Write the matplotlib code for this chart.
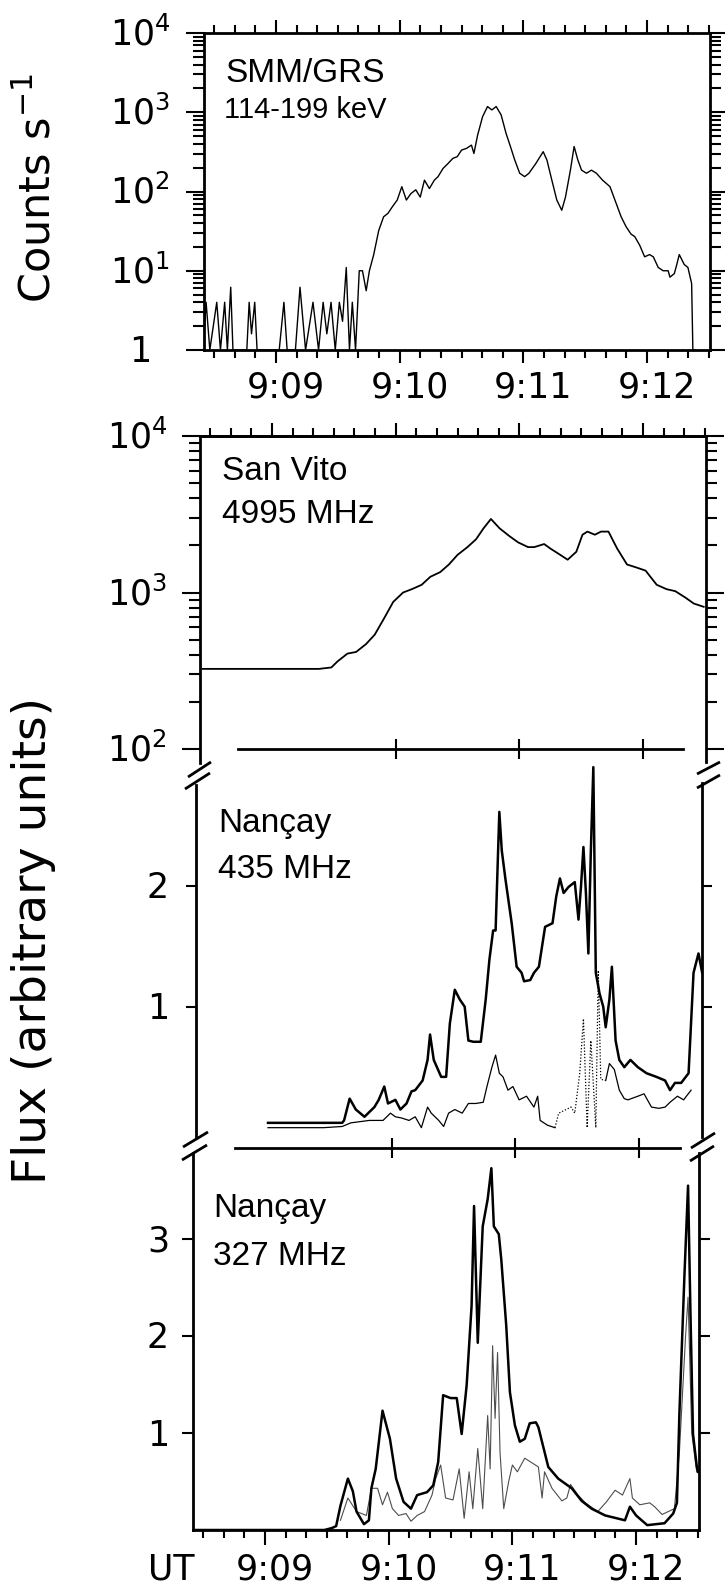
import matplotlib
matplotlib.use("Agg")
import matplotlib.pyplot as plt
from matplotlib.lines import Line2D
from matplotlib.ticker import FixedLocator, LogLocator, MultipleLocator, NullFormatter, NullLocator
from matplotlib.transforms import ScaledTranslation, blended_transform_factory

W, H, DPI = 725, 1591, 100
plt.rcParams['font.family'] = ['DejaVu Sans']
plt.rcParams['mathtext.default'] = 'regular'

# ---------------- data (time in minutes after 9:09:00 UT) ----------------
tick_minutes = [0, 1, 2, 3]
tick_labels = ["9:09", "9:10", "9:11", "9:12"]

grs_yticks = [1, 10, 100, 1000, 10000]
grs_ylabels = ["1", r"$10^{1}$", r"$10^{2}$", r"$10^{3}$", r"$10^{4}$"]
grs_t = [-0.59, -0.565, -0.535, -0.479, -0.449, -0.415, -0.393, -0.366, -0.348, -0.236,
         -0.217, -0.198, -0.172, -0.153, 0.026, 0.064, 0.09, 0.157, 0.194, 0.239,
         0.299, 0.344, 0.381, 0.411, 0.445, 0.479, 0.512, 0.538, 0.568, 0.594,
         0.617, 0.643, 0.673, 0.699, 0.729, 0.755, 0.79, 0.83, 0.87, 0.905,
         0.94, 0.98, 1.017, 1.054, 1.09, 1.13, 1.166, 1.20, 1.24, 1.28,
         1.31, 1.35, 1.39, 1.43, 1.465, 1.50, 1.54, 1.58, 1.60, 1.63,
         1.67, 1.71, 1.745, 1.78, 1.82, 1.86, 1.895, 1.93, 1.97, 2.01,
         2.045, 2.10, 2.16, 2.19, 2.23, 2.27, 2.31, 2.34, 2.38, 2.41,
         2.44, 2.47, 2.51, 2.55, 2.59, 2.64, 2.70, 2.74, 2.79, 2.83,
         2.87, 2.90, 2.94, 2.98, 3.02, 3.05, 3.09, 3.13, 3.17, 3.185,
         3.22, 3.24, 3.26, 3.30, 3.33, 3.36, 3.37, 3.39]
grs_counts = [1, 4, 1, 4, 1, 4, 1, 6.2, 1, 1,
              4, 1.6, 4, 1, 1, 4, 1, 1, 6.2, 1,
              4, 1, 4, 1.6, 4, 1, 4, 2.3, 11, 1,
              4, 1, 10, 10, 5.6, 10, 16, 32, 48, 53,
              64, 78, 115, 78, 94, 105, 85, 139, 109, 139,
              154, 195, 225, 262, 275, 333, 350, 385, 302, 515,
              880, 1180, 1070, 1180, 925, 540, 370, 250, 170, 154,
              170, 225, 318, 250, 139, 78, 58, 85, 186, 370,
              250, 186, 170, 186, 170, 139, 115, 78, 48, 36,
              29, 27, 21, 15, 16, 15, 11, 10, 10, 8.3,
              9.2, 12, 16, 12, 11, 6.9, 1, 1]

sv_yticks = [100, 1000, 10000]
sv_ylabels = [r"$10^{2}$", r"$10^{3}$", r"$10^{4}$"]
sv_t = [-0.56, 0.38, 0.48, 0.53, 0.61, 0.68, 0.76, 0.83, 0.91, 0.98,
        1.06, 1.13, 1.21, 1.28, 1.36, 1.43, 1.50, 1.58, 1.65, 1.71,
        1.77, 1.84, 1.92, 1.99, 2.07, 2.12, 2.20, 2.25, 2.33, 2.39,
        2.46, 2.51, 2.55, 2.61, 2.66, 2.72, 2.79, 2.87, 2.94, 3.02,
        3.11, 3.19, 3.26, 3.34, 3.41, 3.49]
sv_flux = [325, 325, 332, 363, 407, 417, 468, 537, 692, 871,
           1000, 1050, 1120, 1260, 1350, 1510, 1740, 1950, 2190, 2570,
           2950, 2570, 2290, 2090, 1950, 1950, 2040, 1910, 1740, 1620,
           1820, 2340, 2450, 2340, 2450, 2450, 1910, 1510, 1450, 1380,
           1120, 1050, 1020, 930, 850, 810]

n435_yticks = [1, 2]
n435_t = [0.0, 0.60, 0.615, 0.66, 0.71, 0.78, 0.86, 0.895, 0.94, 0.97,
          1.03, 1.07, 1.12, 1.16, 1.19, 1.25, 1.29, 1.31, 1.34, 1.40,
          1.44, 1.47, 1.51, 1.55, 1.59, 1.62, 1.66, 1.72, 1.76, 1.79,
          1.82, 1.84, 1.87, 1.89, 1.92, 1.97, 2.01, 2.05, 2.07, 2.12,
          2.15, 2.19, 2.24, 2.30, 2.33, 2.36, 2.39, 2.43, 2.48, 2.51,
          2.53, 2.55, 2.57, 2.59, 2.61, 2.63, 2.65, 2.68, 2.71, 2.73,
          2.76, 2.78, 2.81, 2.84, 2.88, 2.93, 2.99, 3.06, 3.14, 3.21,
          3.25, 3.29, 3.34, 3.40, 3.44, 3.48, 3.51]
n435_flux = [0.04, 0.04, 0.06, 0.24, 0.15, 0.09, 0.17, 0.23, 0.34, 0.20,
             0.23, 0.15, 0.20, 0.30, 0.31, 0.39, 0.56, 0.77, 0.56, 0.42,
             0.42, 0.86, 1.14, 1.06, 1.00, 0.72, 0.71, 0.71, 1.06, 1.39,
             1.63, 1.63, 2.61, 2.29, 2.05, 1.69, 1.33, 1.28, 1.21, 1.22,
             1.28, 1.33, 1.66, 1.69, 1.91, 2.06, 1.94, 1.99, 2.03, 1.72,
             1.99, 2.32, 1.94, 1.44, 2.29, 2.98, 1.28, 1.11, 1.00, 0.83,
             1.06, 1.33, 0.72, 0.56, 0.50, 0.56, 0.50, 0.45, 0.42, 0.39,
             0.31, 0.37, 0.37, 0.45, 1.28, 1.44, 1.28]
n435b_t = [0.0, 0.45, 0.60, 0.67, 0.745, 0.82, 0.93, 0.99, 1.03, 1.08,
           1.14, 1.19, 1.24, 1.29, 1.32, 1.38, 1.42, 1.46, 1.51, 1.57,
           1.62, 1.68, 1.74, 1.77, 1.81, 1.84, 1.87, 1.90, 1.94, 1.98,
           2.03, 2.09, 2.15, 2.18, 2.20, 2.26, 2.32]
n435b_flux = [0.0, 0.0, 0.01, 0.04, 0.05, 0.06, 0.06, 0.12, 0.09, 0.08,
              0.06, 0.09, 0.0, 0.17, 0.12, 0.06, 0.01, 0.12, 0.15, 0.12,
              0.20, 0.20, 0.21, 0.34, 0.50, 0.60, 0.45, 0.42, 0.31, 0.34,
              0.23, 0.26, 0.17, 0.26, 0.06, 0.02, 0.0]
n435d_t = [2.32, 2.35, 2.41, 2.45, 2.48, 2.52, 2.55, 2.58, 2.61, 2.65, 2.67, 2.69, 2.73]
n435d_flux = [0.0, 0.12, 0.15, 0.17, 0.12, 0.45, 0.90, 0.0, 0.72, 0.0, 1.30, 0.40, 0.39]
n435c_t = [2.73, 2.76, 2.80, 2.84, 2.88, 2.91, 2.99, 3.04, 3.10, 3.16, 3.21, 3.25, 3.31, 3.36, 3.42]
n435c_flux = [0.39, 0.53, 0.48, 0.31, 0.24, 0.23, 0.26, 0.28, 0.17, 0.16, 0.17, 0.21, 0.26, 0.23, 0.31]

n327_yticks = [1, 2, 3]
n327_t = [-0.59, 0.48, 0.54, 0.575, 0.61, 0.67, 0.71, 0.74, 0.80, 0.84,
          0.86, 0.895, 0.95, 1.01, 1.06, 1.12, 1.18, 1.23, 1.31, 1.36,
          1.40, 1.44, 1.50, 1.55, 1.59, 1.63, 1.67, 1.69, 1.72, 1.76,
          1.80, 1.83, 1.85, 1.89, 1.91, 1.95, 1.98, 2.02, 2.06, 2.10,
          2.14, 2.19, 2.21, 2.29, 2.37, 2.48, 2.56, 2.64, 2.75, 2.91,
          2.95, 3.00, 3.09, 3.23, 3.30, 3.33, 3.35, 3.39, 3.42, 3.44,
          3.46, 3.49, 3.50]
n327_flux = [0.0, 0.0, 0.02, 0.04, 0.25, 0.53, 0.40, 0.19, 0.06, 0.10,
             0.43, 0.63, 1.23, 0.94, 0.53, 0.29, 0.22, 0.36, 0.39, 0.46,
             0.70, 1.39, 1.36, 1.36, 0.99, 1.49, 2.31, 3.34, 1.93, 3.13,
             3.41, 3.73, 3.13, 3.05, 2.79, 2.11, 1.42, 1.08, 0.91, 0.94,
             1.10, 1.11, 1.06, 0.65, 0.53, 0.43, 0.30, 0.22, 0.15, 0.10,
             0.24, 0.15, 0.05, 0.07, 0.17, 0.28, 1.2, 2.6, 3.55, 2.2,
             0.99, 0.66, 0.6]
n327b_t = [0.61, 0.67, 0.74, 0.82, 0.86, 0.91, 0.95, 0.99, 1.03, 1.08,
           1.14, 1.18, 1.23, 1.29, 1.35, 1.38, 1.42, 1.46, 1.52, 1.57,
           1.61, 1.65, 1.68, 1.72, 1.76, 1.80, 1.82, 1.84, 1.86, 1.88,
           1.90, 1.93, 1.97, 2.00, 2.04, 2.10, 2.21, 2.24, 2.26, 2.32,
           2.40, 2.44, 2.47, 2.53, 2.59, 2.69, 2.76, 2.83, 2.89, 2.95,
           2.97, 3.03, 3.11, 3.15, 3.21, 3.26, 3.31, 3.35, 3.40, 3.42,
           3.45, 3.49]
n327b_flux = [0.10, 0.33, 0.19, 0.15, 0.43, 0.43, 0.26, 0.39, 0.22, 0.15,
              0.17, 0.09, 0.15, 0.19, 0.36, 0.53, 0.67, 0.33, 0.31, 0.63,
              0.12, 0.60, 0.22, 0.84, 0.22, 1.18, 0.63, 1.90, 1.15, 1.83,
              0.80, 0.22, 0.50, 0.67, 0.60, 0.74, 0.65, 0.33, 0.60, 0.43,
              0.30, 0.33, 0.47, 0.36, 0.28, 0.19, 0.29, 0.41, 0.36, 0.53,
              0.33, 0.26, 0.28, 0.24, 0.16, 0.19, 0.22, 0.80, 2.0, 2.4,
              1.0, 0.6]

# ---------------- layout helpers ----------------
fig = plt.figure(figsize=(W / DPI, H / DPI), dpi=DPI)
PPM = 123.7          # pixels per minute
XLIM = (-0.58, 3.51)
SPW = 2.0            # spine width
TICKFS = 25
PANELFONT = 'Liberation Sans'


def add_panel(x909, top, bottom):
    left = x909 + XLIM[0] * PPM
    right = x909 + XLIM[1] * PPM
    ax = fig.add_axes([left / W, 1 - bottom / H, (right - left) / W, (bottom - top) / H])
    ax.set_xlim(*XLIM)
    ax.patch.set_visible(False)
    for s in ax.spines.values():
        s.set_linewidth(SPW)
    return ax


def ydata(ax, ypx):
    inv = ax.transData.inverted()
    return inv.transform((0.0, H - ypx))[1]


def xdata(ax, xpx):
    inv = ax.transData.inverted()
    return inv.transform((xpx, 0.0))[0]


def fig_line(xs, ys, lw=SPW):
    fig.add_artist(Line2D([x / W for x in xs], [1 - y / H for y in ys],
                          transform=fig.transFigure, color='black', lw=lw,
                          solid_capstyle='butt'))


def x_ticklabels(ax, baseline_px):
    tr = blended_transform_factory(ax.transData, fig.transFigure) + \
        ScaledTranslation(0.10, 0, fig.dpi_scale_trans)
    for t, lab in zip(tick_minutes, tick_labels):
        ax.text(t, 1 - baseline_px / H, lab, transform=tr, ha='center',
                va='baseline', fontsize=TICKFS)


def y_ticklabels(ax, vals, labs, xc_px):
    tr = blended_transform_factory(fig.transFigure, ax.transData) + \
        ScaledTranslation(0, -0.125, fig.dpi_scale_trans)
    for v, lab in zip(vals, labs):
        ax.text(xc_px / W, v, lab, transform=tr, ha='center', va='baseline',
                fontsize=TICKFS)


def panel_text(x, baseline, s, size=24):
    fig.text(x / W, 1 - baseline / H, s, fontfamily=PANELFONT, fontsize=size,
             ha='left', va='baseline')


def log_yaxis(ax, ticks):
    ax.set_yscale('log')
    ax.yaxis.set_major_locator(FixedLocator(ticks))
    ax.yaxis.set_minor_locator(LogLocator(base=10, subs=range(2, 10)))
    ax.yaxis.set_minor_formatter(NullFormatter())
    ax.tick_params(axis='y', which='both', direction='out', left=True, right=True,
                   labelleft=False, labelright=False, width=1.5)
    ax.tick_params(axis='y', which='major', length=13)
    ax.tick_params(axis='y', which='minor', length=8)


def minute_ticks(axis_owner, major_len=9.5, minor_len=5.5, **kw):
    axis_owner.xaxis.set_major_locator(FixedLocator(tick_minutes))
    axis_owner.xaxis.set_minor_locator(MultipleLocator(1 / 6))
    axis_owner.tick_params(axis='x', which='both', direction='out', width=1.5,
                           labelbottom=False, labeltop=False, **kw)
    axis_owner.tick_params(axis='x', which='major', length=major_len)
    axis_owner.tick_params(axis='x', which='minor', length=minor_len)


# ---------------- panel 1: SMM/GRS ----------------
ax1 = add_panel(276, 33, 350)
ax1.plot(grs_t, grs_counts, color='black', lw=1.0)
ax1.set_ylim(1, 1e4)
log_yaxis(ax1, grs_yticks)
minute_ticks(ax1, top=True, bottom=True)
x_ticklabels(ax1, 398)
y_ticklabels(ax1, grs_yticks, grs_ylabels, 140)
panel_text(225, 82, "SMM/GRS", 24)
panel_text(224, 118, "114-199 keV", 21)

# ---------------- panel 2: San Vito ----------------
ax2 = add_panel(272, 436, 749)
ax2.plot(sv_t, sv_flux, color='black', lw=1.3)
ax2.set_ylim(100, 1e4)
log_yaxis(ax2, sv_yticks)
ax2.xaxis.set_major_locator(FixedLocator(tick_minutes[1:]))
ax2.xaxis.set_minor_locator(NullLocator())
ax2.tick_params(axis='x', which='major', direction='inout', length=14, width=1.5,
                top=False, bottom=True, labelbottom=False)
ax2.spines['bottom'].set_bounds(xdata(ax2, 238), xdata(ax2, 683))
ax2.spines['left'].set_bounds(ydata(ax2, 763), 1e4)
ax2.spines['right'].set_bounds(ydata(ax2, 762), 1e4)
sec2 = ax2.secondary_xaxis('top')
minute_ticks(sec2, top=True, bottom=False)
sec2.spines['top'].set_linewidth(SPW)
y_ticklabels(ax2, sv_yticks, sv_ylabels, 137)
panel_text(222, 480, "San Vito")
panel_text(222, 523, "4995 MHz")

# ---------------- panel 3: Nançay 435 MHz ----------------
ax3 = add_panel(268, 749, 1148)
ax3.set_ylim(-0.168, 3.13)
ax3.plot(n435_t, n435_flux, color='black', lw=1.8)
ax3.plot(n435b_t, n435b_flux, color='black', lw=0.9)
ax3.plot(n435d_t, n435d_flux, color='black', lw=0.9, ls=(0, (1, 1.5)))
ax3.plot(n435c_t, n435c_flux, color='black', lw=0.9)
ax3.spines['top'].set_visible(False)
ax3.spines['bottom'].set_bounds(xdata(ax3, 235), xdata(ax3, 680))
ax3.spines['left'].set_bounds(ydata(ax3, 1137), ydata(ax3, 785))
ax3.spines['right'].set_bounds(ydata(ax3, 1137), ydata(ax3, 783))
ax3.xaxis.set_major_locator(FixedLocator(tick_minutes[1:]))
ax3.xaxis.set_minor_locator(NullLocator())
ax3.tick_params(axis='x', which='major', direction='inout', length=14, width=1.5,
                top=False, bottom=True, labelbottom=False)
ax3.yaxis.set_major_locator(FixedLocator(n435_yticks))
ax3.tick_params(axis='y', direction='out', left=True, right=True, length=7,
                width=1.5, labelleft=False)
y_ticklabels(ax3, n435_yticks, [str(v) for v in n435_yticks], 158)
panel_text(218, 832, "Nançay")
panel_text(218, 878, "435 MHz")

# ---------------- panel 4: Nançay 327 MHz ----------------
ax4 = add_panel(265, 1148, 1530)
ax4.set_ylim(0, (1530 - 1148) / 97.0)
ax4.plot(n327b_t, n327b_flux, color='0.3', lw=0.8)
ax4.plot(n327_t, n327_flux, color='black', lw=1.8)
ax4.spines['top'].set_visible(False)
ax4.spines['left'].set_bounds(0, ydata(ax4, 1153))
ax4.spines['right'].set_bounds(0, ydata(ax4, 1153))
minute_ticks(ax4, major_len=11, minor_len=6, top=False, bottom=True)
ax4.yaxis.set_major_locator(FixedLocator(n327_yticks))
ax4.tick_params(axis='y', direction='out', left=True, right=True, length=8,
                width=1.5, labelleft=False)
y_ticklabels(ax4, n327_yticks, [str(v) for v in n327_yticks], 158)
x_ticklabels(ax4, 1580)
fig.text(171 / W, 1 - 1580 / H, "UT", fontsize=TICKFS, ha='center', va='baseline')
panel_text(213, 1217, "Nançay")
panel_text(213, 1265, "327 MHz")

# ---------------- axis-break marks ----------------
fig_line([188, 211], [777, 762])
fig_line([185, 210], [789, 773])
fig_line([697, 720], [774, 762])
fig_line([697, 720], [788, 775])
fig_line([183, 208], [1147, 1132])
fig_line([182, 207], [1160, 1145])
fig_line([691, 715], [1148, 1133])
fig_line([690, 714], [1161, 1146])

# ---------------- axis titles ----------------
fig.text(38 / W, 1 - 188 / H, r"Counts s$^{-1}$", rotation=90, fontsize=31,
         ha='center', va='center')
fig.text(34 / W, 1 - 940 / H, "Flux (arbitrary units)", rotation=90, fontsize=34,
         ha='center', va='center')

fig.savefig("out.png", dpi=DPI)
